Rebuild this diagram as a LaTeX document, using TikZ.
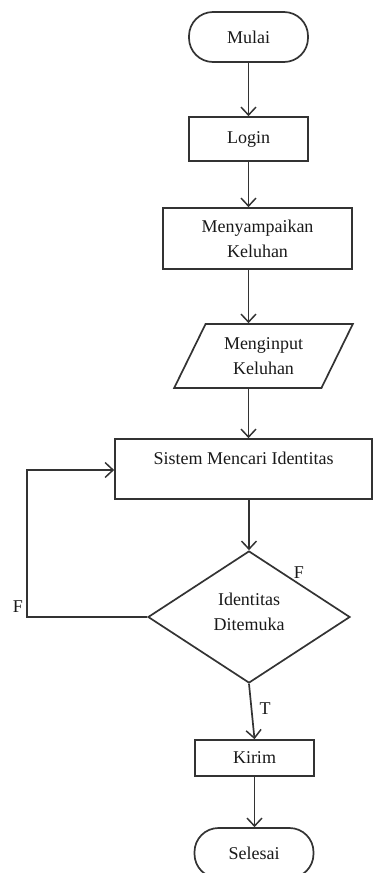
\documentclass[tikz,border=0pt]{standalone}
\usepackage{fontspec}
\setmainfont{Liberation Serif}
\usetikzlibrary{arrows.meta,shapes.geometric}
\begin{document}
\begin{tikzpicture}[x=1pt,y=-1pt,
  every node/.style={font=\fontsize{18}{25}\selectfont, text=black!90},
  ln/.style={draw=black!80, line width=1.7pt},
  arr/.style={ln, -{Straight Barb[length=8pt,width=15pt,line width=1.5pt]}},
  boxnode/.style={ln, rectangle, inner sep=0pt, align=center},
  term/.style={ln, rectangle, rounded corners=24pt, inner sep=0pt, minimum width=119pt, minimum height=50pt},
  io/.style={ln, trapezium, trapezium left angle=60, trapezium right angle=120, trapezium stretches=true, inner sep=0pt, align=center, minimum width=179pt, minimum height=64pt},
  dec/.style={ln, diamond, inner sep=0pt, align=center, minimum width=202pt, minimum height=132pt},
  lbl/.style={inner sep=0pt}
]
\useasboundingbox (0,0) rectangle (373,873);
\clip (0,0) rectangle (373,873);

\node[term] (mulai) at (248.5,37) {Mulai};
\node[boxnode, minimum width=119pt, minimum height=44pt] (login) at (248.5,139) {Login};
\node[boxnode, minimum width=189pt, minimum height=61pt] (sampai) at (257.5,238.5) {Menyampaikan\\Keluhan};
\node[io] (input) at (263.5,356) {Menginput\\Keluhan};
\node[boxnode, minimum width=257pt, minimum height=60pt, text height=12pt, text depth=22pt] (sistem) at (243.5,469) {Sistem Mencari Identitas};
\node[dec, text depth=11pt] (cek) at (249,617) {Identitas\\Ditemuka};
\node[boxnode, minimum width=119pt, minimum height=36pt] (kirim) at (254.5,758) {Kirim};
\node[term] (selesai) at (254,853) {Selesai};

\coordinate (loop) at (27,470);

\draw[arr] (mulai) -- (login);
\draw[arr] (login.south) -- (sampai.north -| login);
\draw[arr] (sampai.south -| login) -- (input.north -| login);
\draw[arr] (input.south -| login) -- (sistem.north -| login);
\draw[arr] (sistem.south -| cek) -- (cek.north);
\draw[arr] (cek.south) -- node[lbl, right=7pt, yshift=3pt] {T} (kirim.north);
\draw[arr] (kirim) -- (kirim.south |- selesai.north);
\draw[arr] (cek.west) -| (loop) -- (sistem.west |- loop);

\node[lbl] (fleft) at (18,607) {F};
\node[lbl] (fright) at (299,573) {F};
\end{tikzpicture}
\end{document}
